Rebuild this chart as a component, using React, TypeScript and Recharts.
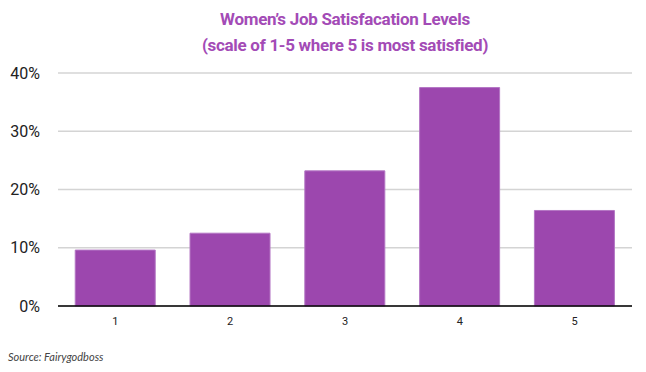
import React from "react";
import { BarChart, Bar, XAxis, YAxis, CartesianGrid } from "recharts";

const categories = ["1", "2", "3", "4", "5"];
const shares = [9.6, 12.5, 23.2, 37.5, 16.4];
const yTicks = [0, 10, 20, 30, 40];

const data = categories.map((c, i) => ({ level: c, share: shares[i] }));

export default function App() {
  return (
    <div style={{ position: "absolute", left: 0, top: 0, width: 646, height: 372, background: "#fff" }}>
      <div
        style={{
          position: "absolute",
          left: 0,
          width: 690,
          top: 6,
          textAlign: "center",
          fontFamily: "Roboto, sans-serif",
          fontWeight: 700,
          fontSize: 17,
          lineHeight: "26px",
          color: "#a34bb6",
          letterSpacing: -0.3,
        }}
      >
        Women’s Job Satisfacation Levels
        <br />
        (scale of 1-5 where 5 is most satisfied)
      </div>
      <BarChart
        width={646}
        height={372}
        data={data}
        margin={{ top: 73, right: 14, bottom: 36, left: 0 }}
        barCategoryGap="15%"
      >
        <CartesianGrid vertical={false} stroke="#d4d4d4" strokeWidth={1.5} />
        <XAxis
          dataKey="level"
          height={30}
          tickLine={false}
          axisLine={{ stroke: "#000", strokeWidth: 1.5 }}
          tickMargin={5}
          tick={{ fill: "#222", fontSize: 11, fontFamily: "Roboto, sans-serif" }}
        />
        <YAxis
          width={58}
          domain={[0, 40]}
          ticks={yTicks}
          tickFormatter={(v: number) => `${v}%`}
          axisLine={false}
          tickLine={false}
          tickMargin={12}
          tick={{ fill: "#222", fontSize: 16, fontFamily: "Roboto, sans-serif" }}
        />
        <Bar dataKey="share" fill="#9c47ae" stroke="#b476c4" strokeWidth={1} isAnimationActive={false} />
      </BarChart>
      <div
        style={{
          position: "absolute",
          left: 8,
          top: 350,
          fontFamily: "Lato, sans-serif",
          fontStyle: "italic",
          fontSize: 11,
          color: "#444",
        }}
      >
        Source: Fairygodboss
      </div>
    </div>
  );
}
